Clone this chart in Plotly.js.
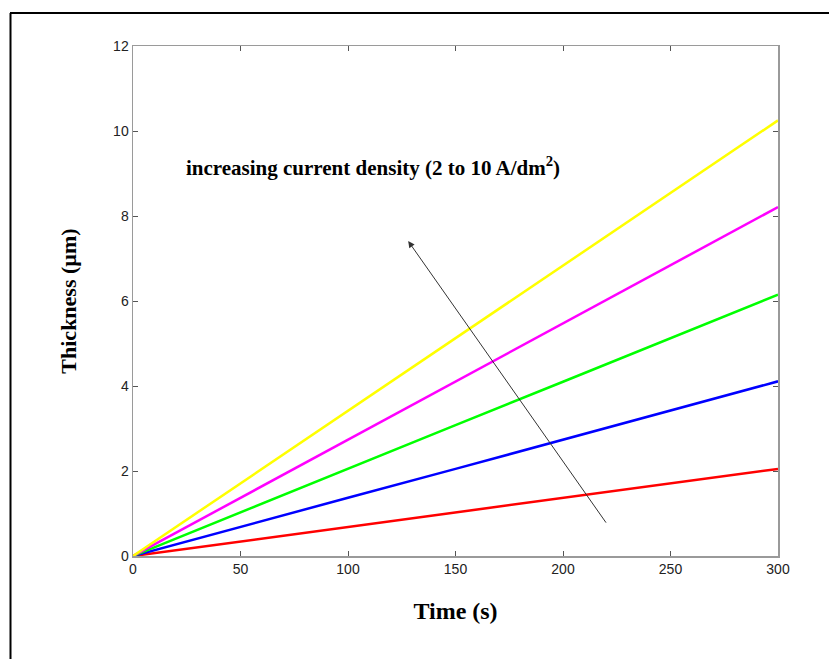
<!DOCTYPE html>
<html>
<head>
<meta charset="utf-8">
<script src="https://cdn.plot.ly/plotly-3.0.1.min.js"></script>
<style>html,body{margin:0;padding:0;background:#fff;}#chart{width:829px;height:659px;}</style>
</head>
<body>
<div id="chart"></div>
<script>
// Time (s)
const time = [0, 50, 100, 150, 200, 250, 300];
// Thickness (µm) for current densities 2, 4, 6, 8, 10 A/dm²
const cd2  = [0, 0.34, 0.68, 1.02, 1.37, 1.71, 2.05];
const cd4  = [0, 0.69, 1.37, 2.05, 2.74, 3.42, 4.11];
const cd6  = [0, 1.03, 2.05, 3.08, 4.10, 5.13, 6.15];
const cd8  = [0, 1.37, 2.74, 4.11, 5.48, 6.84, 8.21];
const cd10 = [0, 1.71, 3.42, 5.13, 6.84, 8.55, 10.25];
const seriesNames = ['2 A/dm²', '4 A/dm²', '6 A/dm²', '8 A/dm²', '10 A/dm²'];
const seriesColors = ['#ff0000', '#0000ff', '#00ff00', '#ff00ff', '#ffff00'];
const xTicks = [0, 50, 100, 150, 200, 250, 300];
const yTicks = [0, 2, 4, 6, 8, 10, 12];
// arrow: tail and head positions in data units
const arrowTail = [220.5, 0.75];
const arrowHead = [128, 7.41];

const ys = [cd2, cd4, cd6, cd8, cd10];
const traces = ys.map((y, i) => ({
  x: time, y: y, type: 'scatter', mode: 'lines', name: seriesNames[i],
  line: {color: seriesColors[i], width: 2.5}, showlegend: false
}));

const axisCommon = {
  showgrid: false, zeroline: false, showline: true, linecolor: '#9a9a9a', linewidth: 1.5,
  mirror: 'allticks', ticks: 'inside', ticklen: 5, tickcolor: '#555',
  tickfont: {family: 'Liberation Sans, Arial', size: 14, color: '#222'}
};

const layout = {
  width: 829, height: 659,
  margin: {l: 133, r: 51, t: 46, b: 103},
  paper_bgcolor: '#fff', plot_bgcolor: '#fff',
  xaxis: Object.assign({}, axisCommon, {
    range: [0, 300], tickvals: xTicks, ticktext: xTicks.map(String),
    title: {text: '<b>Time (s)</b>', font: {family: 'Liberation Serif, Times New Roman', size: 24, color: '#000'}, standoff: 26}
  }),
  yaxis: Object.assign({}, axisCommon, {
    range: [0, 12], tickvals: yTicks, ticktext: yTicks.map(String),
    title: {text: '<b>Thickness (µm)</b>', font: {family: 'Liberation Serif, Times New Roman', size: 22, color: '#000'}, standoff: 30}
  }),
  annotations: [
    {
      x: arrowHead[0], y: arrowHead[1], ax: arrowTail[0], ay: arrowTail[1],
      xref: 'x', yref: 'y', axref: 'x', ayref: 'y',
      text: '', showarrow: true, arrowhead: 2, arrowsize: 1.3, arrowwidth: 1, arrowcolor: '#333'
    },
    {
      x: 185, y: 167, xref: 'paper', yref: 'paper', showarrow: false,
      xanchor: 'left', yanchor: 'middle',
      text: '<b>increasing current density (2 to 10 A/dm<sup>2</sup>)</b>',
      font: {family: 'Liberation Serif, Times New Roman', size: 21, color: '#000'}
    }
  ],
  shapes: [
    {type: 'line', xref: 'paper', yref: 'paper', x0: 0, x1: 1, y0: 0, y1: 0, line: {color: '#000', width: 2}},
    {type: 'line', xref: 'paper', yref: 'paper', x0: 0, x1: 0, y0: 0, y1: 1, line: {color: '#000', width: 2}}
  ]
};

// convert pixel positions for the text annotation and border frame into paper coords
const pw = 829 - 133 - 51, ph = 659 - 46 - 103;
layout.annotations[1].x = (184 - 133) / pw;
layout.annotations[1].y = (659 - 103 - 166) / ph;
layout.shapes[0].x0 = (10 - 133) / pw; layout.shapes[0].x1 = (829 - 133) / pw;
layout.shapes[0].y0 = layout.shapes[0].y1 = (659 - 103 - 13) / ph;
layout.shapes[1].x0 = layout.shapes[1].x1 = (10.5 - 133) / pw;
layout.shapes[1].y0 = (659 - 103 - 13) / ph; layout.shapes[1].y1 = (659 - 103 - 660) / ph;

Plotly.newPlot('chart', traces, layout, {displayModeBar: false, staticPlot: true});
</script>
</body>
</html>
